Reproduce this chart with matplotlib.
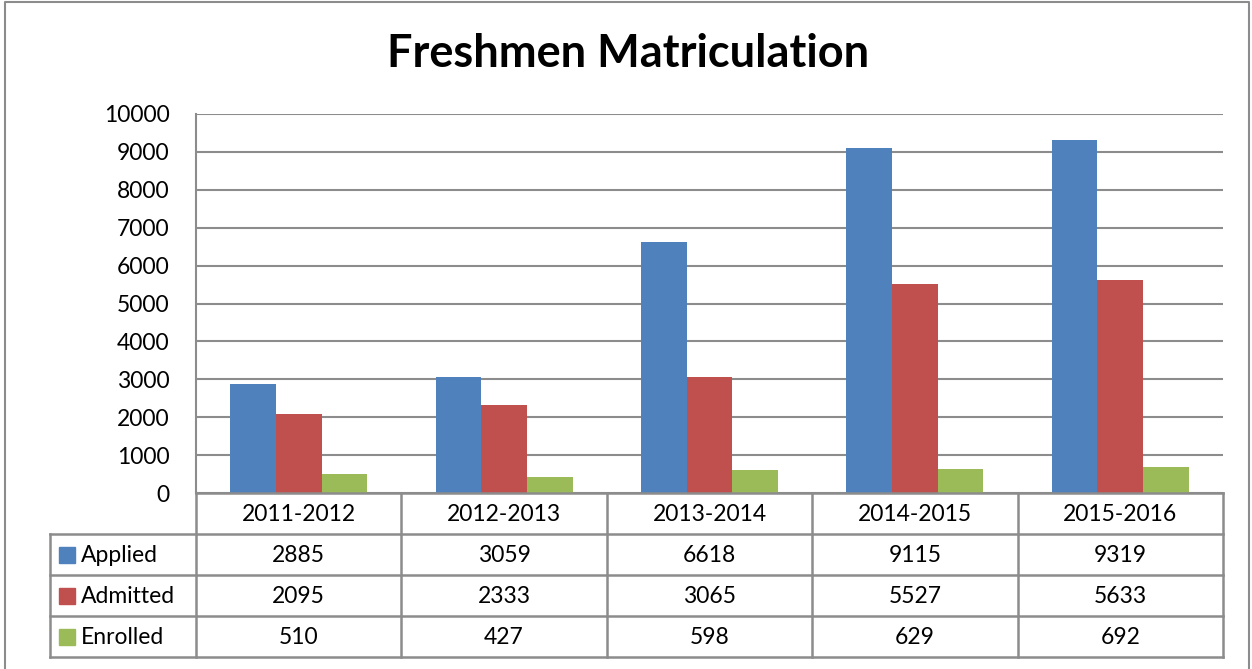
import matplotlib
matplotlib.use("Agg")
import matplotlib.pyplot as plt
import numpy as np
from matplotlib.patches import Rectangle

categories = ["2011-2012", "2012-2013", "2013-2014", "2014-2015", "2015-2016"]
series_names = ["Applied", "Admitted", "Enrolled"]
applied = [2885, 3059, 6618, 9115, 9319]
admitted = [2095, 2333, 3065, 5527, 5633]
enrolled = [510, 427, 598, 629, 692]
colors = ["#4F81BD", "#C0504D", "#9BBB59"]
yticks = list(range(0, 10001, 1000))

plt.rcParams['font.family'] = ['Lato', 'DejaVu Sans']

W, H = 1252, 669
fig = plt.figure(figsize=(W / 100, H / 100), dpi=100)

FS = 16.5

# pixel-based layout
left, right, top, bottom = 196, 1223, 114, 493
ax = fig.add_axes([left / W, 1 - bottom / H, (right - left) / W, (bottom - top) / H])

series = [applied, admitted, enrolled]
n = len(categories)
x = np.arange(n)
bw = 0.2225
for i, (vals, c) in enumerate(zip(series, colors)):
    ax.bar(x + (i - 1) * bw, vals, width=bw, color=c, zorder=3, linewidth=0)

ax.set_xlim(-0.5, n - 0.5)
ax.set_ylim(0, 10000)
ax.set_yticks(yticks)
ax.set_yticklabels([str(v) for v in yticks], fontsize=FS)
ax.tick_params(axis='y', length=0, pad=19)
ax.set_xticks([])
ax.yaxis.grid(True, color="#8c8c8c", linewidth=1.5, zorder=0)
for s in ["top", "right", "bottom"]:
    ax.spines[s].set_visible(False)
ax.spines["left"].set_color("#8c8c8c")
ax.spines["left"].set_linewidth(1.5)

# overlay axes in pixel coordinates for the table and frame
ov = fig.add_axes([0, 0, 1, 1])
ov.set_xlim(0, W)
ov.set_ylim(H, 0)
ov.axis("off")

lc = "#8c8c8c"
lw = 1.8
colw = (right - left) / n
row_edges = [493, 534, 575, 616, 657]
leg_left = 50
ov.plot([left, right], [493, 493], color=lc, lw=lw)
for r in row_edges[1:]:
    ov.plot([leg_left, right], [r, r], color=lc, lw=lw)
for j in range(n + 1):
    xx = left + j * colw
    ov.plot([xx, xx], [493, 657], color=lc, lw=lw)
ov.plot([leg_left, leg_left], [534, 657], color=lc, lw=lw)

for j, cat in enumerate(categories):
    ov.text(left + (j + 0.5) * colw, (493 + 534) / 2 + 1, cat, ha="center", va="center", fontsize=FS)

for i, (name, vals, c) in enumerate(zip(series_names, series, colors)):
    yc = (row_edges[i + 1] + row_edges[i + 2]) / 2 + 1
    ov.add_patch(Rectangle((59, yc - 9), 16, 16, color=c))
    ov.text(81, yc, name, ha="left", va="center", fontsize=FS)
    for j, v in enumerate(vals):
        ov.text(left + (j + 0.5) * colw, yc, str(v), ha="center", va="center", fontsize=FS)

# title
ov.text(628, 54, "Freshmen Matriculation", ha="center", va="center",
        fontsize=32.5, fontweight="bold")

# outer frame (left, top, right)
ov.plot([5, 5, 1249, 1249], [H, 2, 2, H], color="#8c8c8c", lw=1.5)

fig.savefig("out.png", dpi=100)
